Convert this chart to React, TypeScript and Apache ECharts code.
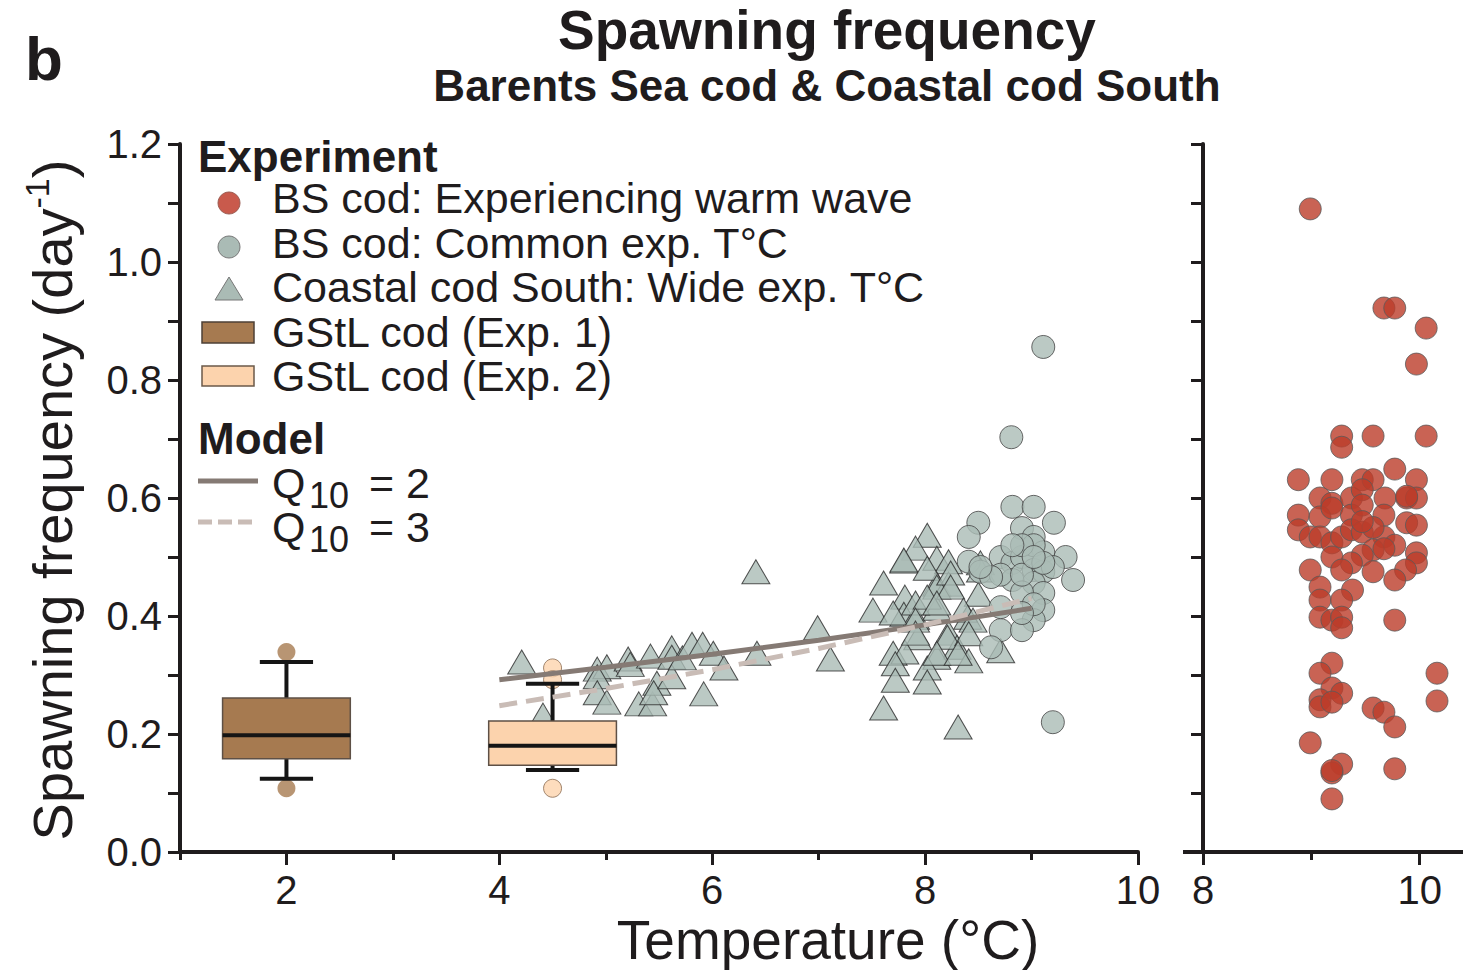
import React, { useEffect, useRef } from "react";
import * as echarts from "echarts";

const FONT = '"Liberation Sans", Arial, Helvetica, sans-serif';
const INK = "#1f1c1d";

// ---------- data ----------
const coastalSouth: number[][] = [
  [4.21, 0.322], [4.41, 0.232], [4.92, 0.31], [5.01, 0.314], [4.92, 0.297], [4.92, 0.27],
  [5.01, 0.254], [5.21, 0.327], [5.23, 0.318], [5.42, 0.332], [5.31, 0.251], [5.44, 0.251],
  [5.48, 0.286], [5.45, 0.27], [5.62, 0.346], [5.62, 0.33], [5.62, 0.297], [5.72, 0.329],
  [5.81, 0.352], [5.91, 0.352], [6.01, 0.337], [6.11, 0.312], [5.92, 0.268], [6.41, 0.475],
  [6.42, 0.337], [6.99, 0.38], [7.11, 0.327],
  [8.02, 0.537], [7.91, 0.515], [7.8, 0.493], [8.11, 0.498], [8.22, 0.492], [7.61, 0.456],
  [7.81, 0.432], [8.11, 0.454], [8.22, 0.454], [8.52, 0.49], [8.52, 0.478], [7.51, 0.41],
  [7.8, 0.403], [7.91, 0.398], [8.11, 0.413], [8.5, 0.437], [8.4, 0.398], [8.22, 0.371],
  [8.3, 0.347], [7.93, 0.363], [7.7, 0.337], [7.81, 0.339], [7.72, 0.319], [8.11, 0.33],
  [8.02, 0.312], [8.41, 0.324], [8.71, 0.341], [7.72, 0.291], [8.02, 0.288], [7.61, 0.244],
  [8.31, 0.212], [7.8, 0.495], [8.02, 0.481], [8.11, 0.449], [8.24, 0.473], [8.24, 0.449],
  [7.91, 0.422], [8.02, 0.432], [8.11, 0.422], [7.7, 0.405], [7.91, 0.393], [8.36, 0.41],
  [8.45, 0.393], [8.21, 0.364], [8.41, 0.37], [7.91, 0.371], [8.11, 0.337], [8.31, 0.337],
];

const bsCommon: number[][] = [
  [9.11, 0.856], [8.81, 0.703], [8.82, 0.585], [9.02, 0.585], [8.5, 0.558], [9.21, 0.558],
  [8.41, 0.534], [8.91, 0.549], [9.02, 0.534], [9.11, 0.508], [9.32, 0.5], [9.39, 0.461],
  [8.71, 0.5], [8.82, 0.49], [8.91, 0.5], [9.02, 0.478], [9.11, 0.475], [9.02, 0.456],
  [9.11, 0.439], [8.82, 0.461], [8.41, 0.492], [8.52, 0.475], [8.71, 0.47], [9.11, 0.41],
  [9.02, 0.393], [8.71, 0.376], [8.91, 0.376], [8.62, 0.347], [8.71, 0.415], [9.2, 0.483],
  [8.91, 0.44], [9.02, 0.52], [9.11, 0.49], [8.91, 0.52], [8.62, 0.466], [9.2, 0.22],
  [8.91, 0.47], [9.02, 0.5], [8.82, 0.52], [8.52, 0.483], [9.02, 0.42], [8.91, 0.405],
];

const bsWarmWave: number[][] = [
  [8.99, 1.09], [9.67, 0.922], [9.77, 0.922], [10.06, 0.888], [9.97, 0.827], [9.28, 0.705],
  [9.28, 0.686], [9.57, 0.705], [10.06, 0.705], [9.77, 0.649], [8.88, 0.631], [9.19, 0.631],
  [9.47, 0.631], [9.57, 0.631], [9.97, 0.631], [9.08, 0.6], [9.19, 0.591], [9.37, 0.6],
  [9.47, 0.614], [9.68, 0.6], [9.88, 0.6], [9.97, 0.6], [8.88, 0.571], [8.88, 0.546],
  [9.08, 0.568], [9.19, 0.583], [9.37, 0.571], [9.47, 0.588], [9.67, 0.571], [9.88, 0.603],
  [9.88, 0.558], [9.97, 0.554], [8.99, 0.534], [9.08, 0.534], [9.19, 0.524], [9.28, 0.534],
  [9.37, 0.546], [9.47, 0.542], [9.67, 0.534], [9.77, 0.52], [9.57, 0.512], [9.47, 0.503],
  [9.37, 0.49], [9.97, 0.507], [9.97, 0.49], [9.87, 0.478], [9.77, 0.461], [9.57, 0.475],
  [9.19, 0.5], [8.99, 0.478], [9.28, 0.478], [9.08, 0.449], [9.38, 0.444], [9.08, 0.427],
  [9.28, 0.427], [9.08, 0.398], [9.19, 0.393], [9.28, 0.398], [9.28, 0.38], [9.77, 0.393],
  [9.19, 0.32], [9.08, 0.303], [9.19, 0.278], [9.28, 0.269], [9.08, 0.258], [9.08, 0.246],
  [9.19, 0.254], [9.57, 0.244], [9.67, 0.237], [9.77, 0.212], [10.16, 0.303], [10.16, 0.256],
  [8.99, 0.185], [9.28, 0.149], [9.19, 0.134], [9.19, 0.138], [9.77, 0.141], [9.19, 0.09],
  [9.67, 0.514], [9.57, 0.55], [9.47, 0.56],
];

// GStL cod boxes: [temperature, whiskerLow, Q1, median, Q3, whiskerHigh]
const gstlBoxes: number[][] = [
  [2, 0.124, 0.158, 0.198, 0.261, 0.322],
  [4.5, 0.139, 0.147, 0.18, 0.222, 0.285],
];
const gstlExp1Outliers: number[][] = [[2, 0.339], [2, 0.108]];
const gstlExp2Outliers: number[][] = [[4.5, 0.312], [4.5, 0.292], [4.5, 0.108]];

const modelQ10_2: number[][] = [[4, 0.292], [5, 0.313], [6, 0.335], [7, 0.359], [8, 0.385], [9, 0.413]];
const modelQ10_3: number[][] = [[4, 0.248], [5, 0.277], [6, 0.309], [7, 0.345], [8, 0.385], [9, 0.43]];

const xMajorLeft = [2, 4, 6, 8, 10];
const xMinorLeft = [1, 3, 5, 7, 9];
const xMajorRight = [8, 10];
const xMinorRight = [9];

// ---------- styles ----------
const BOX_FILLS = ["#a67a50", "#fcd3ad"];
const BOX_W = 1.2; // in °C units
const CAP_W = 0.5;
const GREY = "#aabbb5";

export default function App() {
  const ref = useRef<HTMLDivElement>(null);
  useEffect(() => {
    if (!ref.current) return;
    const chart = echarts.init(ref.current, undefined, { renderer: "svg" });

    const axisLineStyle = { color: INK, width: 4 };
    const tickStyle = { color: INK, width: 3 };
    const labelStyle = { fontSize: 40, fontFamily: FONT, color: INK };

    const yAxisBase = (gridIndex: number, showLabel: boolean) => ({
      type: "value",
      gridIndex,
      min: 0,
      max: 1.2,
      interval: 0.2,
      axisLine: { show: true, lineStyle: axisLineStyle },
      axisTick: { show: true, length: 12, lineStyle: tickStyle },
      minorTick: { show: true, splitNumber: 2, length: 12, lineStyle: tickStyle },
      splitLine: { show: false },
      axisLabel: {
        show: showLabel,
        margin: 18,
        ...labelStyle,
        formatter: (v: number) => v.toFixed(1),
      },
    });

    const textEl = (x: number, y: number, text: string, size: number, bold = false, extra: any = {}) => ({
      type: "text",
      x,
      y,
      style: {
        text,
        fontSize: size,
        fontFamily: FONT,
        fontWeight: bold ? "bold" : "normal",
        fill: INK,
        align: "left",
        verticalAlign: "middle",
        ...extra,
      },
    });

    const option: any = {
      animation: false,
      backgroundColor: "#ffffff",
      grid: [
        { left: 180, top: 144, width: 958, height: 708 },
        { left: 1203, top: 144, width: 260, height: 708 },
      ],
      xAxis: [
        {
          type: "value", gridIndex: 0, min: 1, max: 10, position: "bottom",
          axisLine: { show: true, onZero: false, lineStyle: axisLineStyle },
          axisTick: { show: true, length: 13, lineStyle: tickStyle, customValues: xMajorLeft },
          axisLabel: { margin: 18, ...labelStyle, customValues: xMajorLeft },
          splitLine: { show: false },
        },
        {
          type: "value", gridIndex: 0, min: 1, max: 10, position: "bottom", offset: 0,
          axisLine: { show: false },
          axisTick: { show: true, length: 8, lineStyle: tickStyle, customValues: xMinorLeft },
          axisLabel: { show: false },
          splitLine: { show: false },
        },
        {
          type: "value", gridIndex: 1, min: 8, max: 10.4, position: "bottom",
          axisLine: { show: true, onZero: false, lineStyle: axisLineStyle },
          axisTick: { show: true, length: 13, lineStyle: tickStyle, customValues: xMajorRight },
          axisLabel: { margin: 18, ...labelStyle, customValues: xMajorRight },
          splitLine: { show: false },
        },
        {
          type: "value", gridIndex: 1, min: 8, max: 10.4, position: "bottom", offset: 0,
          axisLine: { show: false },
          axisTick: { show: true, length: 8, lineStyle: tickStyle, customValues: xMinorRight },
          axisLabel: { show: false },
          splitLine: { show: false },
        },
      ],
      yAxis: [yAxisBase(0, true), yAxisBase(1, false)],
      series: [
        {
          name: "Coastal cod South: Wide exp. T°C",
          type: "scatter",
          xAxisIndex: 0, yAxisIndex: 0,
          data: coastalSouth,
          symbol: "triangle",
          symbolSize: [28, 24],
          itemStyle: { color: GREY, borderColor: "#2b2b2b", borderWidth: 1 },
          z: 2,
        },
        {
          name: "BS cod: Common exp. T°C",
          type: "scatter",
          xAxisIndex: 0, yAxisIndex: 0,
          data: bsCommon,
          symbol: "circle",
          symbolSize: 23,
          itemStyle: { color: GREY, borderColor: "#454545", borderWidth: 1 },
          z: 3,
        },
        {
          name: "GStL cod (Exp. 1) outliers",
          type: "scatter",
          xAxisIndex: 0, yAxisIndex: 0,
          data: gstlExp1Outliers,
          symbolSize: 18,
          itemStyle: { color: BOX_FILLS[0], borderColor: BOX_FILLS[0], borderWidth: 0 },
          z: 4,
        },
        {
          name: "GStL cod (Exp. 2) outliers",
          type: "scatter",
          xAxisIndex: 0, yAxisIndex: 0,
          data: gstlExp2Outliers,
          symbolSize: 18,
          itemStyle: { color: BOX_FILLS[1], borderColor: "#8a6a50", borderWidth: 1 },
          z: 4,
        },
        {
          name: "GStL cod",
          type: "custom",
          xAxisIndex: 0, yAxisIndex: 0,
          data: gstlBoxes,
          encode: { x: 0, y: [1, 2, 3, 4, 5] },
          z: 5,
          renderItem: (params: any, api: any) => {
            const x = api.value(0);
            const lo = api.coord([x, api.value(1)]);
            const q1 = api.coord([x, api.value(2)]);
            const med = api.coord([x, api.value(3)]);
            const q3 = api.coord([x, api.value(4)]);
            const hi = api.coord([x, api.value(5)]);
            const halfW = api.size([BOX_W, 0])[0] / 2;
            const capHalf = api.size([CAP_W, 0])[0] / 2;
            const cx = med[0];
            const blk = { stroke: "#151515", lineWidth: 4 };
            return {
              type: "group",
              children: [
                { type: "line", shape: { x1: cx, y1: hi[1], x2: cx, y2: q3[1] }, style: blk },
                { type: "line", shape: { x1: cx, y1: lo[1], x2: cx, y2: q1[1] }, style: blk },
                { type: "line", shape: { x1: cx - capHalf, y1: hi[1], x2: cx + capHalf, y2: hi[1] }, style: blk },
                { type: "line", shape: { x1: cx - capHalf, y1: lo[1], x2: cx + capHalf, y2: lo[1] }, style: blk },
                {
                  type: "rect",
                  shape: { x: cx - halfW, y: q3[1], width: halfW * 2, height: q1[1] - q3[1] },
                  style: { fill: BOX_FILLS[params.dataIndex], stroke: "#5e5046", lineWidth: 1.5 },
                },
                { type: "line", shape: { x1: cx - halfW, y1: med[1], x2: cx + halfW, y2: med[1] }, style: blk },
              ],
            };
          },
        },
        {
          name: "Q10 = 2",
          type: "line",
          xAxisIndex: 0, yAxisIndex: 0,
          data: modelQ10_2,
          showSymbol: false,
          symbol: "none",
          lineStyle: { color: "#857a74", width: 5 },
          z: 6,
        },
        {
          name: "Q10 = 3",
          type: "line",
          xAxisIndex: 0, yAxisIndex: 0,
          data: modelQ10_3,
          showSymbol: false,
          symbol: "none",
          lineStyle: { color: "#c9bcb6", width: 5, type: [18, 9] },
          z: 6,
        },
        {
          name: "BS cod: Experiencing warm wave",
          type: "scatter",
          xAxisIndex: 2, yAxisIndex: 1,
          data: bsWarmWave,
          symbolSize: 22,
          itemStyle: { color: "#bb3c29", opacity: 0.8, borderColor: "#5a5a5a", borderWidth: 1 },
          z: 3,
        },
      ],
      graphic: [
        textEl(25, 58, "b", 62, true),
        textEl(827, 30, "Spawning frequency", 55, true, { align: "center" }),
        textEl(827, 85, "Barents Sea cod & Coastal cod South", 44, true, { align: "center" }),
        textEl(828, 940, "Temperature (°C)", 55, false, { align: "center" }),
        // right-panel x-axis stub left of its y-axis
        { type: "line", shape: { x1: 1183, y1: 852, x2: 1203, y2: 852 }, style: { stroke: INK, lineWidth: 4 } },
        {
          type: "text",
          x: 52,
          y: 500,
          rotation: Math.PI / 2,
          style: {
            text: "{a|Spawning frequency (day}{s|-1}{a|)}",
            align: "center",
            verticalAlign: "middle",
            rich: {
              a: { fontSize: 56, fontFamily: FONT, fill: INK, lineHeight: 64, verticalAlign: "middle" },
              s: { fontSize: 34, fontFamily: FONT, fill: INK, lineHeight: 36, verticalAlign: "top" },
            },
          },
        },
        // legend
        textEl(198, 156, "Experiment", 44, true, { lineHeight: 40 }),
        { type: "circle", shape: { cx: 229, cy: 203, r: 11 }, style: { fill: "#c95a4c", stroke: "#9a5a50", lineWidth: 1 } },
        textEl(272, 198, "BS cod: Experiencing warm wave", 43, false, { lineHeight: 40 }),
        { type: "circle", shape: { cx: 229, cy: 247, r: 11 }, style: { fill: GREY, stroke: "#777", lineWidth: 1 } },
        textEl(272, 243, "BS cod: Common exp. T°C", 43, false, { lineHeight: 40 }),
        { type: "polygon", shape: { points: [[215, 300], [243, 300], [229, 277]] }, style: { fill: GREY, stroke: "#777", lineWidth: 1 } },
        textEl(272, 287, "Coastal cod South: Wide exp. T°C", 43, false, { lineHeight: 40 }),
        { type: "rect", shape: { x: 202, y: 322, width: 52, height: 21 }, style: { fill: BOX_FILLS[0], stroke: "#4d4036", lineWidth: 1.5 } },
        textEl(272, 332, "GStL cod (Exp. 1)", 43, false, { lineHeight: 40 }),
        { type: "rect", shape: { x: 202, y: 366, width: 52, height: 20 }, style: { fill: BOX_FILLS[1], stroke: "#6b5a4a", lineWidth: 1.5 } },
        textEl(272, 376, "GStL cod (Exp. 2)", 43, false, { lineHeight: 40 }),
        textEl(198, 438, "Model", 44, true, { lineHeight: 40 }),
        { type: "line", shape: { x1: 198, y1: 481, x2: 258, y2: 481 }, style: { stroke: "#857a74", lineWidth: 5 } },
        textEl(272, 483, "Q", 43, false, { lineHeight: 36 }),
        textEl(309, 495, "10", 36, false, { lineHeight: 26 }),
        textEl(369, 483, "= 2", 43, false, { lineHeight: 36 }),
        { type: "line", shape: { x1: 198, y1: 522, x2: 258, y2: 522 }, style: { stroke: "#c9bcb6", lineWidth: 5, lineDash: [14, 6] } },
        textEl(272, 527, "Q", 43, false, { lineHeight: 36 }),
        textEl(309, 539, "10", 36, false, { lineHeight: 26 }),
        textEl(369, 527, "= 3", 43, false, { lineHeight: 36 }),
      ],
    };

    chart.setOption(option);
    return () => chart.dispose();
  }, []);

  return (
    <div
      ref={ref}
      style={{ position: "fixed", left: 0, top: 0, width: 1463, height: 970, background: "#fff" }}
    />
  );
}
